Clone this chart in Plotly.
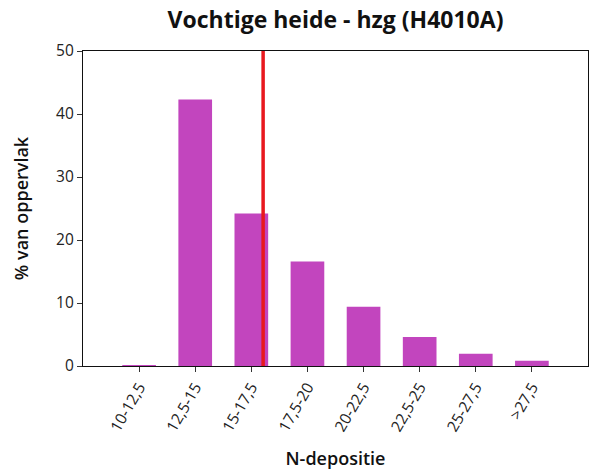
import plotly.graph_objects as go

# N-deposition classes and share of area per class
categories = ["10-12,5", "12,5-15", "15-17,5", "17,5-20", "20-22,5", "22,5-25", "25-27,5", ">27,5"]
percent_area = [0.1, 42.3, 24.2, 16.6, 9.4, 4.6, 1.95, 0.85]

# Position of the reference line, in category-index units
ref_line_x = 2.21

bar_color = "#C245BE"
line_color = "#E8191E"
font_family = "Open Sans, Noto Sans, sans-serif"

fig = go.Figure()
fig.add_trace(go.Bar(
    x=list(range(len(categories))),
    y=percent_area,
    width=0.6,
    marker=dict(color=bar_color, line=dict(width=0)),
    hoverinfo="skip",
))

fig.add_shape(
    type="line", xref="x", yref="paper",
    x0=ref_line_x, x1=ref_line_x, y0=0, y1=1,
    line=dict(color=line_color, width=3.5),
)

fig.update_layout(
    width=591, height=470,
    margin=dict(l=83, r=3, t=51, b=104),
    paper_bgcolor="white", plot_bgcolor="white",
    showlegend=False,
    font=dict(family=font_family, size=15.5, color="#222222"),
    title=dict(
        text="<b>Vochtige heide - hzg (H4010A)</b>",
        x=(83 + 588) / 2 / 591, xanchor="center",
        y=1 - 20 / 470, yanchor="middle",
        font=dict(size=23, color="#111111", family=font_family),
    ),
    bargap=0.4,
)

fig.update_xaxes(
    range=[-1, 8],
    tickmode="array",
    tickvals=list(range(len(categories))),
    ticktext=categories,
    tickangle=-60,
    ticks="outside", ticklen=5, tickcolor="#333333",
    tickfont=dict(size=15.5),
    showline=True, linecolor="#111111", linewidth=1.2, mirror=True,
    showgrid=False, zeroline=False,
    title=dict(text="N-depositie", font=dict(size=18, color="#111111", weight=600), standoff=18),
)

fig.update_yaxes(
    range=[0, 50],
    tickvals=[0, 10, 20, 30, 40, 50],
    ticks="outside", ticklen=5, tickcolor="#333333",
    tickfont=dict(size=15.5),
    showline=True, linecolor="#111111", linewidth=1.2, mirror=True,
    showgrid=False, zeroline=False,
    title=dict(text="% van oppervlak", font=dict(size=18, color="#111111", weight=600), standoff=22),
)

fig.write_html("out.html")
